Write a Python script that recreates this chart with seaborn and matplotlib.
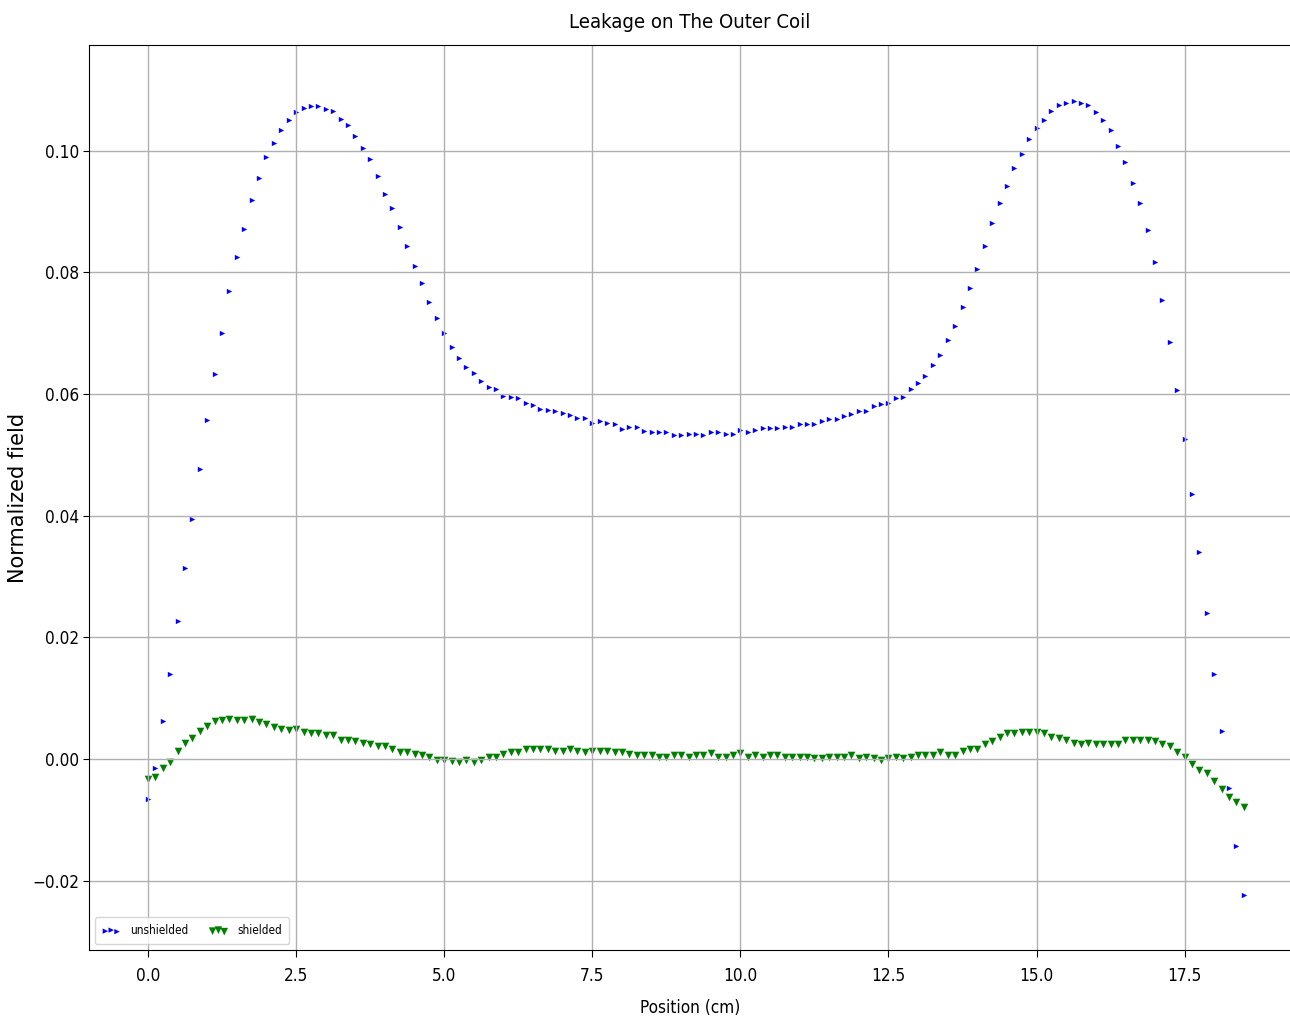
import matplotlib
matplotlib.use("Agg")
import matplotlib.pyplot as plt
import pandas as pd
import seaborn as sns
from matplotlib import font_manager

# measurement positions along the coil (cm)
position_cm = [
    0.0, 0.125, 0.25, 0.375, 0.5, 0.625, 0.75, 0.875,
    1.0, 1.125, 1.25, 1.375, 1.5, 1.625, 1.75, 1.875,
    2.0, 2.125, 2.25, 2.375, 2.5, 2.625, 2.75, 2.875,
    3.0, 3.125, 3.25, 3.375, 3.5, 3.625, 3.75, 3.875,
    4.0, 4.125, 4.25, 4.375, 4.5, 4.625, 4.75, 4.875,
    5.0, 5.125, 5.25, 5.375, 5.5, 5.625, 5.75, 5.875,
    6.0, 6.125, 6.25, 6.375, 6.5, 6.625, 6.75, 6.875,
    7.0, 7.125, 7.25, 7.375, 7.5, 7.625, 7.75, 7.875,
    8.0, 8.125, 8.25, 8.375, 8.5, 8.625, 8.75, 8.875,
    9.0, 9.125, 9.25, 9.375, 9.5, 9.625, 9.75, 9.875,
    10.0, 10.125, 10.25, 10.375, 10.5, 10.625, 10.75, 10.875,
    11.0, 11.125, 11.25, 11.375, 11.5, 11.625, 11.75, 11.875,
    12.0, 12.125, 12.25, 12.375, 12.5, 12.625, 12.75, 12.875,
    13.0, 13.125, 13.25, 13.375, 13.5, 13.625, 13.75, 13.875,
    14.0, 14.125, 14.25, 14.375, 14.5, 14.625, 14.75, 14.875,
    15.0, 15.125, 15.25, 15.375, 15.5, 15.625, 15.75, 15.875,
    16.0, 16.125, 16.25, 16.375, 16.5, 16.625, 16.75, 16.875,
    17.0, 17.125, 17.25, 17.375, 17.5, 17.625, 17.75, 17.875,
    18.0, 18.125, 18.25, 18.375, 18.5,
]

unshielded = [
    -0.0065, -0.0015, 0.0063, 0.0140, 0.0227, 0.0314, 0.0395, 0.0477,
    0.0558, 0.0633, 0.0701, 0.0770, 0.0825, 0.0872, 0.0919, 0.0956,
    0.0990, 0.1013, 0.1034, 0.1050, 0.1063, 0.1071, 0.1074, 0.1074,
    0.1068, 0.1065, 0.1053, 0.1042, 0.1024, 0.1005, 0.0987, 0.0958,
    0.0929, 0.0906, 0.0875, 0.0843, 0.0811, 0.0783, 0.0751, 0.0725,
    0.0701, 0.0678, 0.0660, 0.0644, 0.0634, 0.0621, 0.0611, 0.0609,
    0.0597, 0.0595, 0.0593, 0.0585, 0.0582, 0.0575, 0.0574, 0.0572,
    0.0569, 0.0566, 0.0561, 0.0561, 0.0553, 0.0556, 0.0553, 0.0551,
    0.0543, 0.0546, 0.0546, 0.0540, 0.0538, 0.0538, 0.0538, 0.0533,
    0.0533, 0.0535, 0.0535, 0.0533, 0.0538, 0.0538, 0.0535, 0.0535,
    0.0541, 0.0538, 0.0541, 0.0544, 0.0544, 0.0544, 0.0546, 0.0546,
    0.0551, 0.0551, 0.0551, 0.0556, 0.0559, 0.0559, 0.0564, 0.0567,
    0.0572, 0.0572, 0.0580, 0.0583, 0.0585, 0.0593, 0.0595, 0.0608,
    0.0618, 0.0629, 0.0647, 0.0665, 0.0689, 0.0712, 0.0743, 0.0775,
    0.0806, 0.0843, 0.0882, 0.0914, 0.0942, 0.0972, 0.0995, 0.1019,
    0.1037, 0.1050, 0.1066, 0.1076, 0.1079, 0.1082, 0.1079, 0.1076,
    0.1063, 0.1050, 0.1034, 0.1008, 0.0982, 0.0947, 0.0914, 0.0869,
    0.0817, 0.0754, 0.0686, 0.0607, 0.0526, 0.0436, 0.0340, 0.0240,
    0.0140, 0.0046, -0.0048, -0.0143, -0.0224,
]

shielded = [
    -0.0032, -0.0029, -0.0015, -0.0005, 0.0014, 0.0027, 0.0035, 0.0046,
    0.0055, 0.0062, 0.0065, 0.0066, 0.0064, 0.0064, 0.0066, 0.0061,
    0.0058, 0.0053, 0.0049, 0.0048, 0.0049, 0.0044, 0.0042, 0.0042,
    0.0040, 0.0040, 0.0032, 0.0032, 0.0029, 0.0027, 0.0024, 0.0021,
    0.0021, 0.0016, 0.0012, 0.0012, 0.0009, 0.0006, 0.0003, -0.0001,
    -0.0001, -0.0003, -0.0005, -0.0001, -0.0005, -0.0001, 0.0004, 0.0003,
    0.0009, 0.0012, 0.0012, 0.0016, 0.0016, 0.0016, 0.0016, 0.0014,
    0.0014, 0.0016, 0.0014, 0.0012, 0.0014, 0.0014, 0.0014, 0.0012,
    0.0011, 0.0008, 0.0006, 0.0006, 0.0006, 0.0003, 0.0003, 0.0007,
    0.0006, 0.0004, 0.0007, 0.0007, 0.0010, 0.0003, 0.0003, 0.0007,
    0.0010, 0.0003, 0.0007, 0.0003, 0.0007, 0.0007, 0.0004, 0.0004,
    0.0004, 0.0004, 0.0001, 0.0001, 0.0004, 0.0004, 0.0004, 0.0007,
    0.0001, 0.0003, 0.0001, -0.0002, 0.0001, 0.0003, 0.0001, 0.0004,
    0.0007, 0.0007, 0.0007, 0.0011, 0.0007, 0.0007, 0.0014, 0.0016,
    0.0016, 0.0025, 0.0030, 0.0037, 0.0043, 0.0043, 0.0044, 0.0044,
    0.0044, 0.0042, 0.0036, 0.0034, 0.0031, 0.0027, 0.0024, 0.0027,
    0.0024, 0.0024, 0.0024, 0.0024, 0.0032, 0.0032, 0.0032, 0.0032,
    0.0029, 0.0024, 0.0022, 0.0011, 0.0004, -0.0008, -0.0018, -0.0023,
    -0.0036, -0.0049, -0.0063, -0.0071, -0.0079,
]

x_ticks = [0.0, 2.5, 5.0, 7.5, 10.0, 12.5, 15.0, 17.5]
y_ticks = [-0.02, 0.0, 0.02, 0.04, 0.06, 0.08, 0.10]

df = pd.DataFrame({"position_cm": position_cm,
                   "unshielded": unshielded,
                   "shielded": shielded})

# the reference text is tall and narrow: use the condensed DejaVu face if present
has_condensed = any(f.name == "DejaVu Sans" and f.stretch == "condensed"
                    for f in font_manager.fontManager.ttflist)
stretch = "condensed" if has_condensed else "normal"
k = 1.12 if has_condensed else 1.0

plt.rcParams["font.family"] = "DejaVu Sans"
plt.rcParams["font.stretch"] = stretch

fig = plt.figure(figsize=(12.9, 10.21), dpi=100)
ax = fig.add_axes([0.069, 0.0695, 0.932, 0.8865])

sns.scatterplot(data=df, x="position_cm", y="unshielded", marker=">",
                color="blue", s=15, linewidth=0, label="unshielded", ax=ax)
sns.scatterplot(data=df, x="position_cm", y="shielded", marker="v",
                color="green", s=30, linewidth=0, label="shielded", ax=ax)

ax.set_xlim(-0.996, 19.30)
ax.set_ylim(-0.0314, 0.1174)
ax.set_xticks(x_ticks)
ax.set_yticks(y_ticks)
ax.grid(True, color="#b0b0b0", linewidth=1.0)

ax.tick_params(axis="x", labelsize=11 * k, length=5, pad=7.5)
ax.tick_params(axis="y", labelsize=11 * k, length=4.5, pad=2.5)

ax.set_title("Leakage on The Outer Coil", fontsize=13 * k, pad=12)
ax.set_xlabel("Position (cm)", fontsize=11 * k)
ax.xaxis.set_label_coords(0.5, -0.0536)
ax.set_ylabel("Normalized field", fontsize=15, fontstretch="normal")
ax.yaxis.set_label_coords(-0.0507, 0.5)

ax.legend(loc="lower left", ncol=2, scatterpoints=3, fontsize=7.5 * k,
          borderpad=0.6, borderaxespad=0.5, handlelength=1.6,
          handletextpad=0.8, columnspacing=1.8)

fig.savefig("out.png", dpi=100)
